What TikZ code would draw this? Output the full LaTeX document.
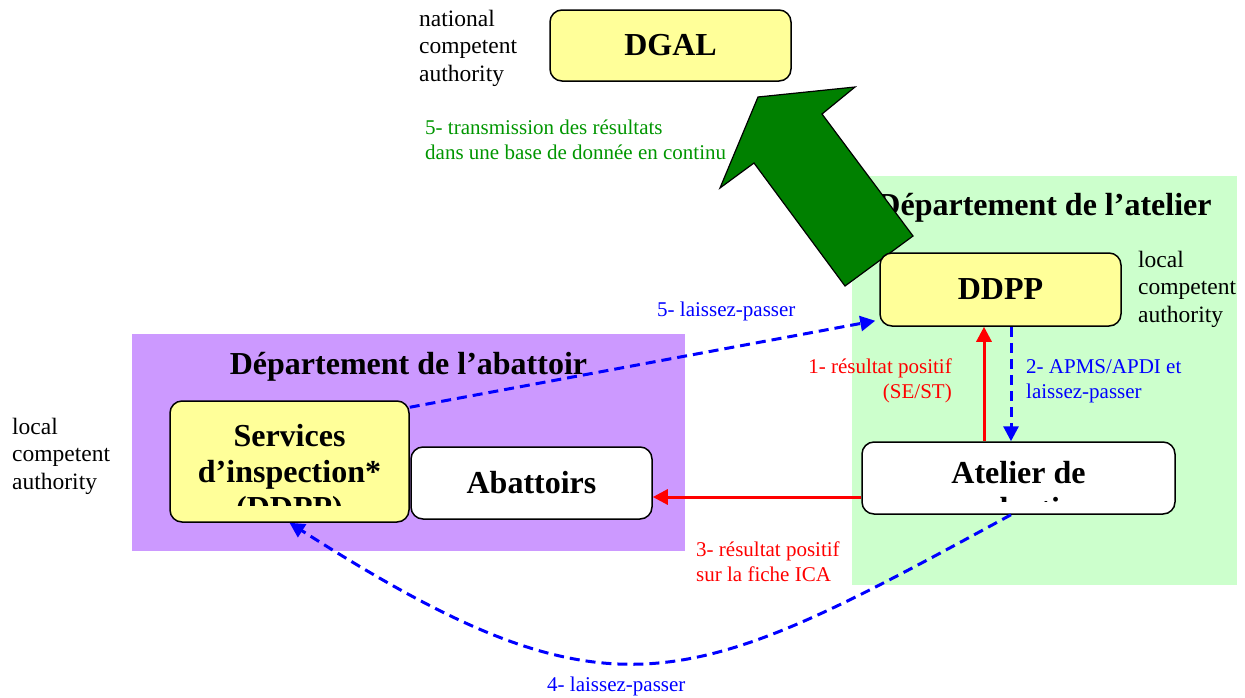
\documentclass[tikz,border=0pt]{standalone}
\usepackage{fontspec}
\setmainfont{Liberation Serif}
\usetikzlibrary{positioning,arrows.meta,calc}

\definecolor{boxyellow}{RGB}{255,255,153}
\definecolor{abatpurple}{RGB}{204,153,255}
\definecolor{ateliergreen}{RGB}{204,255,204}
\definecolor{arrowgreen}{RGB}{0,128,0}
\definecolor{textgreen}{RGB}{0,150,0}

\begin{document}
\begin{tikzpicture}[x=1pt,y=-1pt]
\tikzstyle{block} = [rectangle, draw, line width=1.5pt, rounded corners=12pt, inner sep=0pt, font=\fontsize{32}{36}\selectfont\bfseries, align=center]
\tikzstyle{region} = [rectangle, draw=none, inner sep=0pt]
\tikzstyle{heading} = [anchor=base, inner sep=0pt, align=center, font=\fontsize{32}{36}\selectfont\bfseries]
\tikzstyle{authority} = [anchor=base west, inner sep=0pt, align=left, font=\fontsize{23.5}{27.5}\selectfont]
\tikzstyle{flowtext} = [inner sep=0pt, align=left, font=\fontsize{21}{25}\selectfont]
\tikzstyle{redline} = [draw, red, line width=3pt, -{Triangle[length=15pt,width=15pt]}]
\tikzstyle{blueline} = [draw, blue, line width=3pt, dash pattern=on 10pt off 6pt, -{Triangle[length=15pt,width=15pt]}]

\useasboundingbox (0,0) rectangle (1245,697);

% Departments
\node [region, fill=abatpurple, minimum width=553pt, minimum height=217pt] (abattoirDept) at (408.5,442.5) {};
\node [region, fill=ateliergreen, minimum width=385pt, minimum height=409pt] (atelierDept) at (1044.5,380.5) {};
\node [heading] (abattoirTitle) at (408.5,374) {Département de l’abattoir};
\node [heading] (atelierTitle) at (1044.5,215) {Département de l’atelier};

% (multi-line nodes: base = last line)
\node [flowtext, anchor=base west, text=textgreen] (transmission) at (425,159) {5- transmission des résultats\\dans une base de donnée en continu};

% Big green arrow towards DGAL
\draw [fill=arrowgreen, line width=1.2pt, line join=miter] (758,97) -- (855,87) -- (822,114) -- (913,236) -- (845,286) -- (754,163) -- (720,188) -- cycle;

% Boxes
\node [block, fill=boxyellow, minimum width=241pt, minimum height=71pt] (dgal) at (670.5,45.5) {DGAL};
\node [block, fill=boxyellow, minimum width=241pt, minimum height=73pt] (ddpp) at (1000.5,289.5) {DDPP};
\node [block, fill=boxyellow, minimum width=239pt, minimum height=121pt] (services) at (289.5,461.5) {};
\node [block, fill=white, minimum width=241pt, minimum height=72pt] (abattoirs) at (531.5,483) {Abattoirs};
\node [block, fill=white, minimum width=313pt, minimum height=72pt] (atelier) at (1018.5,478) {};

\begin{scope}
\clip (services.north west) rectangle ([yshift=17pt]services.south east);
\node [heading] (servicesText) at (289.5,518) {Services\\d’inspection*\\(DDPP)};
\end{scope}
\begin{scope}
\clip (atelier.north west) rectangle ([yshift=13pt]atelier.south east);
\node [heading] (atelierText) at (1018.5,519) {Atelier de\\production};
\end{scope}

% Authorities
\node [authority] (nationalNote) at (419,81) {national\\competent\\authority};
\node [authority] (localNoteRight) at (1138,322) {local\\competent\\authority};
\node [authority] (localNoteLeft) at (12,489) {local\\competent\\authority};

% Steps
\node [flowtext, anchor=base west, text=blue] (passFive) at (657,316) {5- laissez-passer};
\node [flowtext, anchor=base east, align=right, text=red] (stepOne) at (952,398) {1- résultat positif\\(SE/ST)};
\node [flowtext, anchor=base west, text=blue] (stepTwo) at (1026,398) {2- APMS/APDI et\\laissez-passer};
\node [flowtext, anchor=base west, text=red] (stepThree) at (696,581) {3- résultat positif\\sur la fiche ICA};
\node [flowtext, anchor=base west, text=blue] (passFour) at (547,691) {4- laissez-passer};

% Connections
\draw [redline] ([xshift=-34.5pt]atelier.north) -- ([xshift=-34.5pt]atelier.north |- ddpp.south);
\draw [blueline] ([xshift=-7.5pt]atelier.north |- ddpp.south) -- ([xshift=-7.5pt]atelier.north);
\draw [redline] ([yshift=-19pt]atelier.west) -- ([yshift=-19pt]atelier.west -| abattoirs.east);
\draw [blueline] ([yshift=-7pt]services.north east) -- ([shift={(-4pt,6pt)}]ddpp.south west);
\draw [blueline] ([xshift=-7.5pt]atelier.south) .. controls (687,691) and (614,730) .. (services.south);

\end{tikzpicture}
\end{document}
